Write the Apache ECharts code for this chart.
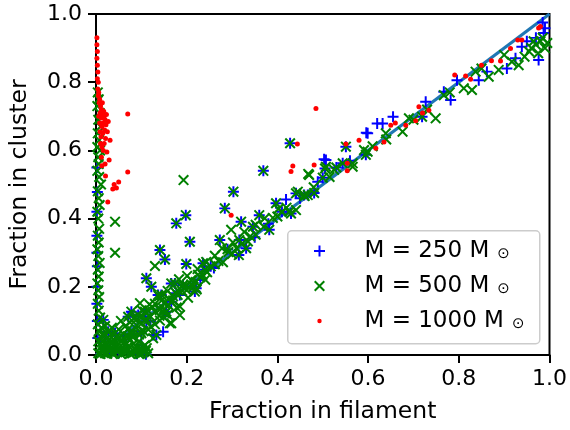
<!DOCTYPE html>
<html>
<head>
<meta charset="utf-8">
<script src="https://cdn.jsdelivr.net/npm/echarts@6/dist/echarts.min.js"></script>
<style>html,body{margin:0;padding:0;background:#fff}#c{width:570px;height:430px}</style>
</head>
<body>
<div id="c"></div>
<script>
// ---- data (fraction in filament, fraction in cluster) ----
const xTicks = [0.0, 0.2, 0.4, 0.6, 0.8, 1.0];
const yTicks = [0.0, 0.2, 0.4, 0.6, 0.8, 1.0];
const seriesNames = ['M = 250 M', 'M = 500 M', 'M = 1000 M'];

// points where both M=250 and M=500 markers coincide
const shared = [
  [0.428,0.621],[0.369,0.54],[0.303,0.479],[0.198,0.41],[0.177,0.386],[0.284,0.43],
  [0.32,0.391],[0.273,0.337],[0.316,0.337],[0.331,0.313],[0.315,0.293],[0.36,0.41],
  [0.346,0.376],[0.382,0.367],[0.397,0.445],[0.441,0.474],[0.459,0.469],[0.207,0.332],
  [0.141,0.308],[0.152,0.28],[0.236,0.269],[0.199,0.267],[0.111,0.225],[0.122,0.2],
  [0.137,0.176],[0.166,0.21],[0.177,0.181],[0.221,0.196],[0.078,0.127],[0.071,0.112],
  [0.093,0.117],[0.155,0.127],[0.1,0.064],[0.111,0.098],[0.505,0.547],[0.544,0.562],
  [0.551,0.611],[0.595,0.587],[0.467,0.469],[0.481,0.475],[0.43,0.415],[0.719,0.699],
  [0.144,0.176],[0.108,0.127],[0.174,0.21],[0.192,0.205],[0.218,0.186],[0.166,0.156],
  [0.152,0.122],[0.133,0.059],[0.042,0.064],[0.027,0.068],[0.016,0.103],[0.253,0.26],
  [0.24,0.25],[0.29,0.31],[0.41,0.42],[0.5,0.52],[0.53,0.55]
];

const blueOnly = [
  [0.489,0.508],[0.419,0.456],[0.507,0.572],[0.503,0.574],[0.596,0.652],[0.62,0.679],
  [0.599,0.65],[0.632,0.679],[0.655,0.699],[0.727,0.743],[0.767,0.772],[0.782,0.748],
  [0.796,0.806],[0.844,0.806],[0.862,0.831],[0.906,0.84],[0.925,0.87],[0.939,0.904],
  [0.976,0.865],[0.987,0.944],[0.99,0.958],[0.126,0.059],[0.148,0.068],[0.185,0.176],
  [0.003,0.478],[0.002,0.2],[0.002,0.3],[0.002,0.55],[0.003,0.1],[0.002,0.35],
  [0.002,0.42],[0.003,0.26],[0.002,0.15],[0.004,0.05],[0.11,0.002],[0.09,0.004],
  [0.05,0.006],[0.07,0.01],[0.03,0.015],[0.06,0.045],[0.085,0.07],[0.12,0.1],
  [0.23,0.22],[0.26,0.255],[0.35,0.345],[0.38,0.385],[0.45,0.46],[0.56,0.57],
  [0.97,0.93],[0.95,0.92],[0.985,0.975],[0.02,0.04],[0.1,0.03],[0.075,0.06]
];

const greenOnly = [
  [0.193,0.513],[0.042,0.391],[0.042,0.30],[0.007,0.522],[0.468,0.531],[0.525,0.543],
  [0.566,0.562],[0.507,0.552],[0.47,0.528],[0.445,0.479],[0.441,0.425],[0.426,0.42],
  [0.298,0.367],[0.13,0.261],[0.097,0.152],[0.163,0.093],[0.185,0.142],[0.185,0.117],
  [0.166,0.093],[0.126,0.049],[0.108,0.029],[0.599,0.596],[0.591,0.601],[0.566,0.552],
  [0.639,0.65],[0.676,0.655],[0.69,0.694],[0.749,0.694],[0.767,0.762],[0.811,0.782],
  [0.829,0.777],[0.837,0.831],[0.866,0.816],[0.888,0.836],[0.917,0.86],[0.932,0.85],
  [0.96,0.9],[0.97,0.91],[0.98,0.92],[0.99,0.9],[0.975,0.885],[0.985,0.93],
  [0.965,0.92],[0.995,0.915],[0.955,0.89],[0.945,0.875],
  // column along the y axis
  [0.004,0.77],[0.006,0.75],[0.003,0.73],[0.008,0.71],[0.005,0.69],[0.01,0.67],
  [0.004,0.65],[0.007,0.63],[0.003,0.61],[0.009,0.6],[0.005,0.58],[0.006,0.56],
  [0.003,0.54],[0.011,0.5],[0.004,0.48],[0.006,0.46],[0.008,0.44],[0.003,0.42],
  [0.005,0.4],[0.007,0.37],[0.004,0.35],[0.006,0.33],[0.003,0.31],[0.005,0.29],
  [0.008,0.27],[0.004,0.25],[0.006,0.23],[0.003,0.21],[0.005,0.19],[0.007,0.17],
  [0.004,0.15],[0.006,0.13],[0.009,0.11],[0.004,0.09],[0.012,0.08],[0.006,0.07],
  [0.02,0.06],[0.014,0.05],[0.005,0.04],[0.01,0.035],
  // bottom-left clump
  [0.02,0.005],[0.03,0.01],[0.04,0.004],[0.05,0.012],[0.06,0.006],[0.07,0.015],
  [0.08,0.005],[0.09,0.01],[0.1,0.004],[0.11,0.012],[0.115,0.005],[0.025,0.02],
  [0.045,0.025],[0.065,0.03],[0.085,0.02],[0.105,0.025],[0.035,0.035],[0.055,0.04],
  [0.075,0.045],[0.095,0.04],[0.015,0.015],[0.01,0.003],[0.03,0.045],[0.02,0.035],
  [0.045,0.055],[0.005,0.005],[0.015,0.008],[0.025,0.004],[0.035,0.006],[0.045,0.012],
  [0.055,0.003],[0.065,0.008],[0.075,0.004],[0.085,0.009],[0.095,0.003],[0.105,0.008],
  [0.012,0.025],[0.022,0.028],[0.032,0.022],[0.042,0.032],[0.052,0.024],[0.062,0.018],
  [0.072,0.026],[0.082,0.032],[0.092,0.022],[0.102,0.015],[0.112,0.02],[0.04,0.045],
  [0.05,0.05],[0.06,0.05],[0.07,0.055],[0.08,0.06],[0.025,0.05],[0.015,0.06],
  [0.03,0.07],[0.02,0.085],[0.035,0.08],[0.05,0.075],[0.065,0.085],[0.055,0.1],
  [0.075,0.095],[0.09,0.105],[0.1,0.11],[0.115,0.13],[0.125,0.14],[0.13,0.15],
  [0.145,0.16],[0.095,0.06],[0.105,0.07],[0.115,0.075],[0.13,0.09],[0.14,0.115],
  [0.15,0.135],[0.16,0.165],[0.17,0.16],[0.18,0.19],[0.19,0.2],[0.2,0.19],
  [0.21,0.22],[0.215,0.2],[0.225,0.235],[0.235,0.235],
  // band along the diagonal
  [0.06,0.062],[0.07,0.075],[0.08,0.07],[0.09,0.087],[0.1,0.092],[0.11,0.106],
  [0.12,0.113],[0.13,0.127],[0.14,0.132],[0.15,0.152],[0.16,0.146],[0.17,0.172],
  [0.18,0.176],[0.19,0.188],[0.2,0.203],[0.21,0.207],[0.22,0.214],[0.23,0.228],
  [0.245,0.243],[0.262,0.266],[0.27,0.276],[0.28,0.272],[0.292,0.302],[0.3,0.296],
  [0.31,0.313],[0.322,0.327],[0.335,0.333],[0.34,0.348],[0.352,0.353],[0.37,0.376],
  [0.39,0.402],[0.4,0.406],[0.42,0.432],[0.46,0.466],[0.48,0.492],[0.515,0.522],
  [0.083,0.108],[0.101,0.131],[0.118,0.148],[0.139,0.172],[0.158,0.188],[0.183,0.222],
  [0.201,0.232],[0.224,0.252],[0.243,0.273],[0.262,0.291],[0.278,0.313],[0.302,0.33],
  [0.327,0.361],[0.352,0.382],[0.372,0.401],[0.402,0.428],
  [0.062,0.037],[0.081,0.052],[0.098,0.068],[0.121,0.083],[0.141,0.101],[0.158,0.118],
  [0.178,0.139],[0.203,0.168],[0.222,0.192],[0.241,0.221],[0.61,0.612],[0.64,0.632],
  [0.7,0.69],[0.73,0.72],[0.78,0.77],[0.85,0.84],[0.9,0.88]
];

const redPts = [
  [0.002,0.93],[0.002,0.91],[0.003,0.89],[0.002,0.87],[0.003,0.85],[0.004,0.83],
  [0.003,0.81],[0.005,0.8],[0.004,0.78],[0.006,0.77],[0.005,0.76],[0.008,0.75],
  [0.007,0.74],[0.01,0.73],[0.012,0.72],[0.009,0.71],[0.015,0.705],[0.018,0.7],
  [0.012,0.695],[0.02,0.69],[0.016,0.68],[0.022,0.675],[0.013,0.67],[0.019,0.66],
  [0.025,0.655],[0.015,0.65],[0.011,0.64],[0.021,0.635],[0.018,0.62],[0.013,0.61],
  [0.016,0.6],[0.024,0.595],[0.012,0.58],[0.031,0.63],[0.029,0.572],[0.02,0.56],
  [0.013,0.555],[0.021,0.525],[0.04,0.50],[0.05,0.507],[0.037,0.487],[0.045,0.49],
  [0.026,0.449],[0.07,0.707],[0.07,0.537],[0.01,0.62],[0.014,0.74],[0.008,0.68],
  [0.017,0.715],[0.006,0.7],[0.023,0.705],[0.009,0.655],[0.027,0.685],
  [0.298,0.41],[0.444,0.619],[0.434,0.554],[0.43,0.538],[0.481,0.557],[0.485,0.723],
  [0.551,0.619],[0.58,0.63],[0.554,0.562],[0.554,0.54],[0.617,0.606],[0.635,0.625],
  [0.65,0.674],[0.66,0.68],[0.683,0.674],[0.705,0.687],[0.712,0.728],[0.734,0.718],
  [0.791,0.821],[0.815,0.818],[0.826,0.809],[0.872,0.863],[0.892,0.862],[0.914,0.899],
  [0.93,0.924],[0.939,0.924],[0.976,0.959],[0.98,0.963],[0.72,0.71],[0.85,0.85]
];

const diagonal = [[0, 0], [1, 1]];

// ---- rendering ----
const PLUS = 'path://M0,4.1H10V5.9H0Z M4.1,0H5.9V10H4.1Z';
const CROSS = 'path://M0,1.3L1.3,0L10,8.7L8.7,10Z M8.7,0L10,1.3L1.3,10L0,8.7Z';
const DOT_LEGEND = 'path://M0,0L0.01,0L0,0.01Z M10,10L9.99,10L10,9.99Z M3,5A2,2 0 1,1 7,5A2,2 0 1,1 3,5Z';
const FONT = 'DejaVu Sans';

const blueData = shared.concat(blueOnly);
const greenData = shared.concat(greenOnly);

const chart = echarts.init(document.getElementById('c'), null, {renderer: 'canvas'});
const axisCommon = {
  type: 'value', min: 0, max: 1, interval: 0.2,
  nameLocation: 'middle',
  nameTextStyle: {fontFamily: FONT, fontSize: 23.5, color: '#000'},
  axisLine: {show: true, lineStyle: {color: '#000', width: 2}},
  axisTick: {show: true, inside: false, length: 8, lineStyle: {color: '#000', width: 2}},
  axisLabel: {fontFamily: FONT, fontSize: 22, color: '#000', formatter: v => v.toFixed(1)},
  splitLine: {show: false}
};
chart.setOption({
  animation: false,
  grid: {left: 96, right: 19, top: 14, bottom: 75, show: true, borderColor: '#000', borderWidth: 2, backgroundColor: 'transparent'},
  xAxis: Object.assign({}, axisCommon, {name: 'Fraction in filament', nameGap: 45,
    axisLabel: Object.assign({}, axisCommon.axisLabel, {margin: 13})}),
  yAxis: Object.assign({}, axisCommon, {name: 'Fraction in cluster', nameGap: 64, nameRotate: 90,
    axisLabel: Object.assign({}, axisCommon.axisLabel, {margin: 14})}),
  legend: {
    orient: 'vertical', left: 314, top: 239, padding: 0,
    itemWidth: 46, itemHeight: 11, itemGap: 11,
    data: [
      {name: seriesNames[0], icon: PLUS},
      {name: seriesNames[1], icon: CROSS},
      {name: seriesNames[2], icon: DOT_LEGEND}
    ],
    formatter: n => '{g| }{a|' + n + '}{s|⊙}',
    textStyle: {
      fontFamily: FONT, fontSize: 23, color: '#000', lineHeight: 24,
      rich: {
        g: {width: 17, fontSize: 23, lineHeight: 24},
        a: {fontFamily: FONT, fontSize: 23, color: '#000', lineHeight: 24},
        s: {fontFamily: FONT, fontSize: 15, color: '#000', padding: [6, 0, 0, 8], lineHeight: 24}
      }
    }
  },
  graphic: [{
    type: 'rect', left: 287, top: 230, z: 3,
    shape: {width: 252, height: 113, r: 4},
    style: {fill: 'rgba(255,255,255,0.8)', stroke: '#cccccc', lineWidth: 1.5}
  }],
  series: [
    {name: seriesNames[0], type: 'scatter', data: blueData, symbol: PLUS, symbolSize: 11,
     itemStyle: {color: '#0000ff', opacity: 1}, z: 2},
    {name: seriesNames[1], type: 'scatter', data: greenData, symbol: CROSS, symbolSize: 11,
     itemStyle: {color: '#008000', opacity: 1}, z: 2},
    {name: seriesNames[2], type: 'scatter', data: redPts, symbol: 'circle', symbolSize: 5,
     itemStyle: {color: '#ff0000', opacity: 1}, z: 2},
    {name: 'diag', type: 'line', data: diagonal, symbol: 'none', z: 2,
     lineStyle: {color: '#1f77b4', width: 3.2}, silent: true}
  ]
});
</script>
</body>
</html>
